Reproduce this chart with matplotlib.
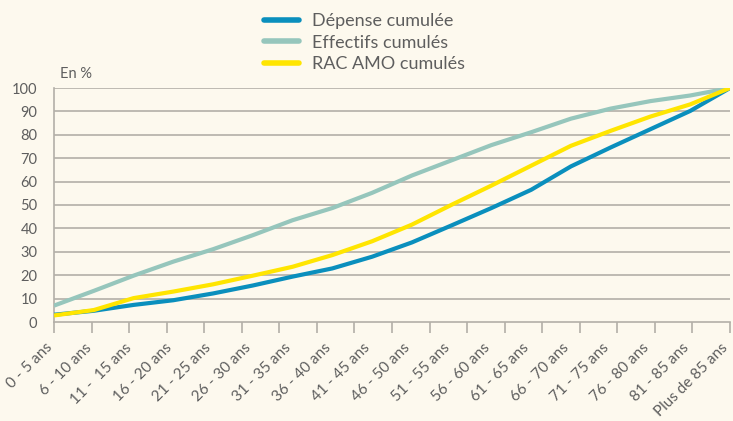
import numpy as np
import matplotlib.pyplot as plt
from matplotlib.lines import Line2D

plt.rcParams['font.family'] = ['Lato', 'DejaVu Sans']

ages = ['0 - 5 ans', '6 - 10 ans', '11 -  15 ans', '16 - 20 ans', '21 - 25 ans',
        '26 - 30 ans', '31 - 35 ans', '36 - 40 ans', '41 - 45 ans', '46 - 50 ans',
        '51 - 55 ans', '56 - 60 ans', '61 - 65 ans', '66 - 70 ans', '71 - 75 ans',
        '76 - 80 ans', '81 - 85 ans', 'Plus de 85 ans']
depense = [3.1, 4.8, 7.3, 9.3, 12.2, 15.6, 19.4, 22.9, 27.9, 34.0, 41.3, 48.7,
           56.5, 66.5, 74.6, 82.4, 90.2, 100]
effectifs = [7.0, 13.3, 19.8, 25.8, 31.1, 37.1, 43.5, 48.7, 55.2, 62.6, 69.1, 75.6,
             81.1, 86.9, 91.2, 94.4, 96.8, 100]
rac = [2.8, 5.1, 10.2, 13.0, 16.1, 19.8, 23.6, 28.6, 34.5, 41.6, 50.1, 58.3,
       66.8, 75.3, 81.7, 87.8, 93.0, 100]

bg = '#fdf9ee'
txt = '#5e5e5e'
grid = '#b3afa8'
c_dep = '#0a8fbd'
c_eff = '#96c6bc'
c_rac = '#ffe500'

fig = plt.figure(figsize=(7.33, 4.21), dpi=100, facecolor=bg)
ax = fig.add_axes([54 / 733, 99 / 421, 676 / 733, 234 / 421], facecolor=bg)

n = len(ages)
x = np.arange(n)
ax.plot(x, effectifs, color=c_eff, lw=3, solid_capstyle='butt', zorder=3)
ax.plot(x, rac, color=c_rac, lw=3, solid_capstyle='butt', zorder=4)
ax.plot(x, depense, color=c_dep, lw=3, solid_capstyle='butt', zorder=3)

ax.set_xlim(0, n - 1)
ax.set_ylim(0, 100)
ax.set_yticks(np.arange(0, 101, 10))
ax.set_yticklabels([str(v) for v in range(0, 101, 10)], fontsize=10.5, color=txt)
ax.tick_params(axis='y', length=0, pad=12)
for v in range(10, 101, 10):
    ax.axhline(v, color=grid, lw=1.2, zorder=1)

# category axis: tick marks on an 18-slot grid, labels under the points
step = (n - 1) / n
ax.set_xticks(np.arange(n + 1) * step)
ax.set_xticklabels([])
ax.tick_params(axis='x', length=8, color=grid, width=1.2)
for i, lab in enumerate(ages):
    ax.text(i - 0.1, -10, lab, rotation=45, rotation_mode='anchor',
            ha='right', va='center', fontsize=11, color=txt, clip_on=False)

for s in ['top', 'right']:
    ax.spines[s].set_visible(False)
for s in ['left', 'bottom']:
    ax.spines[s].set_color(grid)
    ax.spines[s].set_linewidth(1.2)

fig.text(60 / 733, 1 - 74 / 421, 'En %', fontsize=10.5, color=txt, ha='left', va='center')

handles = [Line2D([], [], color=c_dep, lw=4, solid_capstyle='round'),
           Line2D([], [], color=c_eff, lw=4, solid_capstyle='round'),
           Line2D([], [], color=c_rac, lw=4, solid_capstyle='round')]
fig.legend(handles, ['Dépense cumulée', 'Effectifs cumulés', 'RAC AMO cumulés'],
           loc='upper left', bbox_to_anchor=(248 / 733, 1 + 3 / 421), frameon=False,
           fontsize=13, labelcolor=txt, handlelength=1.9, handletextpad=0.75,
           labelspacing=0.3)

fig.savefig('out.png', dpi=100, facecolor=bg)
